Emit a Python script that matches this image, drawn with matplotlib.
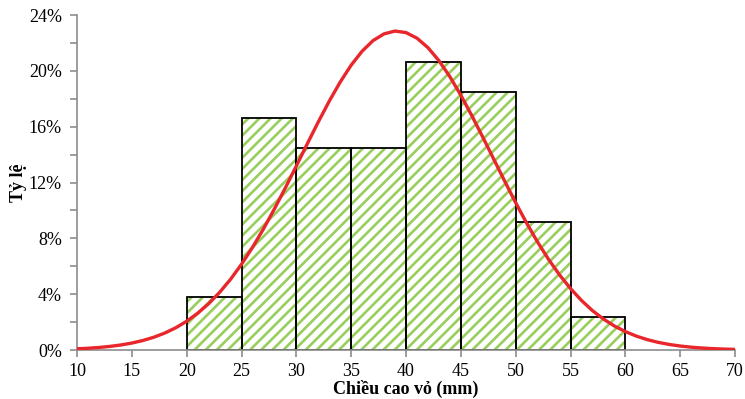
import matplotlib.pyplot as plt
from matplotlib.ticker import FuncFormatter, MultipleLocator

# histogram: class edges (mm) and share (%)
bin_left = [20, 25, 30, 35, 40, 45, 50, 55]
share = [3.8, 16.6, 14.5, 14.5, 20.6, 18.5, 9.2, 2.4]

# fitted curve, every 1 mm
curve_x = list(range(10, 71))
curve_y = [0.087, 0.126, 0.181, 0.258, 0.360, 0.498, 0.679, 0.914, 1.214, 1.592,
           2.061, 2.633, 3.317, 4.129, 5.068, 6.143, 7.351, 8.674, 10.11, 11.62,
           13.19, 14.78, 16.34, 17.83, 19.20, 20.41, 21.41, 22.17, 22.65, 22.85,
           22.74, 22.34, 21.66, 20.73, 19.58, 18.25, 16.79, 15.25, 13.67, 12.09,
           10.55, 9.09, 7.73, 6.49, 5.38, 4.40, 3.55, 2.82, 2.22, 1.72,
           1.32, 0.996, 0.743, 0.546, 0.398, 0.285, 0.202, 0.141, 0.097, 0.066,
           0.044]

plt.rcParams['font.family'] = ['Liberation Serif', 'DejaVu Serif']
plt.rcParams['hatch.linewidth'] = 1.9

fig = plt.figure(figsize=(7.45, 3.99), dpi=100)
ax = fig.add_axes([0.1034, 0.1228, 0.8832, 0.8396])

# hatch in green, outline in black
ax.bar(bin_left, share, width=5, align='edge', color='white',
       edgecolor='#98CE5C', hatch='///', linewidth=0)
ax.bar(bin_left, share, width=5, align='edge', fill=False,
       edgecolor='black', linewidth=1.3)
ax.plot(curve_x, curve_y, color='#E8262B', linewidth=2.4, zorder=5)

ax.set_xlim(10, 70)
ax.set_ylim(0, 24)
ax.set_xticks(range(10, 71, 5))
ax.yaxis.set_major_locator(MultipleLocator(4))
ax.yaxis.set_minor_locator(MultipleLocator(2))
ax.yaxis.set_major_formatter(FuncFormatter(lambda v, p: f'{v:.0f}%'))

for side in ['top', 'right']:
    ax.spines[side].set_visible(False)
for side in ['left', 'bottom']:
    ax.spines[side].set_color('#8C8C8C')
    ax.spines[side].set_linewidth(1.2)
ax.tick_params(which='both', color='#8C8C8C', length=5, width=1.2, labelsize=13)
ax.tick_params(axis='y', pad=6)
ax.tick_params(axis='x', pad=4)

ax.set_xlabel('Chiều cao vỏ (mm)', fontsize=13, fontweight='bold', labelpad=0)
ax.set_ylabel('Tỷ lệ', fontsize=13, fontweight='bold', labelpad=1)

fig.savefig('out.png', dpi=100)
